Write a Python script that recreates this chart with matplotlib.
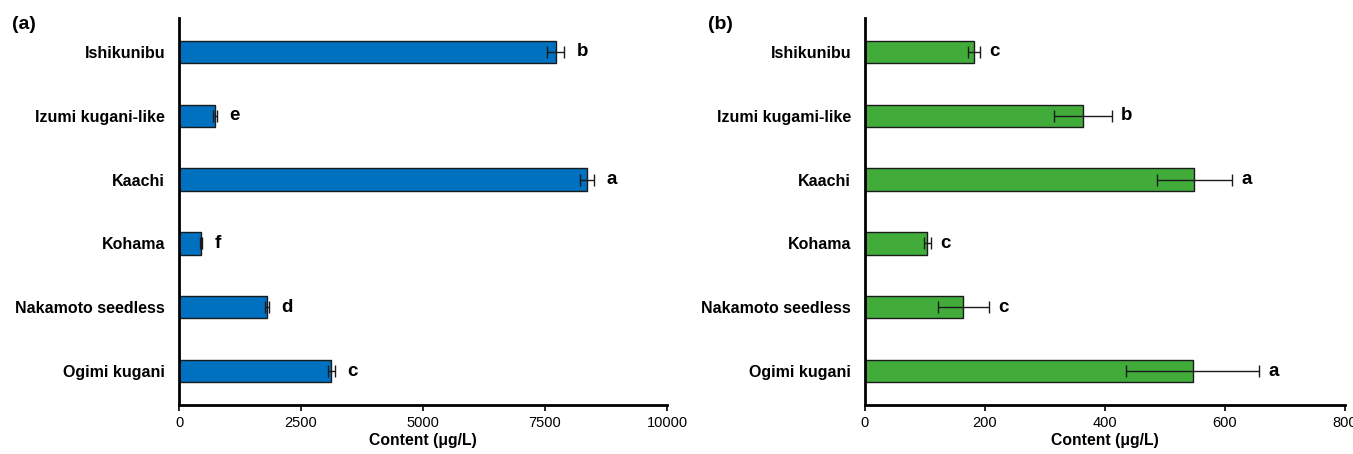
import numpy as np
import matplotlib
matplotlib.use('Agg')
from matplotlib import pyplot as plt

plt.rcParams['font.family'] = ['Liberation Sans', 'DejaVu Sans']

cultivars_a = ['Ishikunibu', 'Izumi kugani-like', 'Kaachi', 'Kohama', 'Nakamoto seedless', 'Ogimi kugani']
content_a = [7720, 730, 8360, 450, 1800, 3120]
err_a = [170, 40, 150, 25, 40, 75]
letters_a = ['b', 'e', 'a', 'f', 'd', 'c']

cultivars_b = ['Ishikunibu', 'Izumi kugami-like', 'Kaachi', 'Kohama', 'Nakamoto seedless', 'Ogimi kugani']
content_b = [181, 363, 549, 104, 164, 546]
err_b = [10, 48, 63, 6, 42, 111]
letters_b = ['c', 'b', 'a', 'c', 'c', 'a']

fig = plt.figure(figsize=(13.53, 4.54), dpi=100)
ax_a = fig.add_axes([0.1323, 0.108, 0.3607, 0.852])
ax_b = fig.add_axes([0.6393, 0.108, 0.3547, 0.852])


def draw_panel(ax, names, vals, errs, letters, color, xmax, step, gap):
    y = np.arange(len(names))
    ax.barh(y, vals, height=0.35, color=color, edgecolor='#1a1a1a', linewidth=1.0, zorder=2)
    ax.errorbar(vals, y, xerr=errs, fmt='none', ecolor='#1a1a1a', elinewidth=1.0,
                capsize=4, capthick=1.0, zorder=3)
    for yi, v, e, lt in zip(y, vals, errs, letters):
        ax.annotate(lt, (v + e, yi), xytext=(gap, 0), textcoords='offset points',
                    ha='left', va='center', fontsize=13.5, fontweight='bold')
    ax.set_ylim(len(names) - 0.47, -0.53)
    ax.set_xlim(0, xmax)
    ax.set_xticks(np.arange(0, xmax + 1, step))
    ax.set_yticks(y)
    ax.set_yticklabels(names, fontsize=11.5, fontweight='bold')
    ax.tick_params(axis='y', length=0, pad=10)
    ax.tick_params(axis='x', direction='out', length=4, width=1.2, labelsize=10.5, pad=4)
    ax.spines['top'].set_visible(False)
    ax.spines['right'].set_visible(False)
    ax.spines['left'].set_linewidth(2.0)
    ax.spines['bottom'].set_linewidth(2.0)
    ax.set_xlabel('Content (μg/L)', fontsize=11.3, fontweight='bold', labelpad=2)


draw_panel(ax_a, cultivars_a, content_a, err_a, letters_a, '#0070C0', 10000, 2500, 9)
draw_panel(ax_b, cultivars_b, content_b, err_b, letters_b, '#41AC3A', 800, 200, 7)

fig.text(0.009, 0.945, '(a)', fontsize=14, fontweight='bold', va='center')
fig.text(0.523, 0.945, '(b)', fontsize=14, fontweight='bold', va='center')

fig.savefig('out.png', dpi=100)
